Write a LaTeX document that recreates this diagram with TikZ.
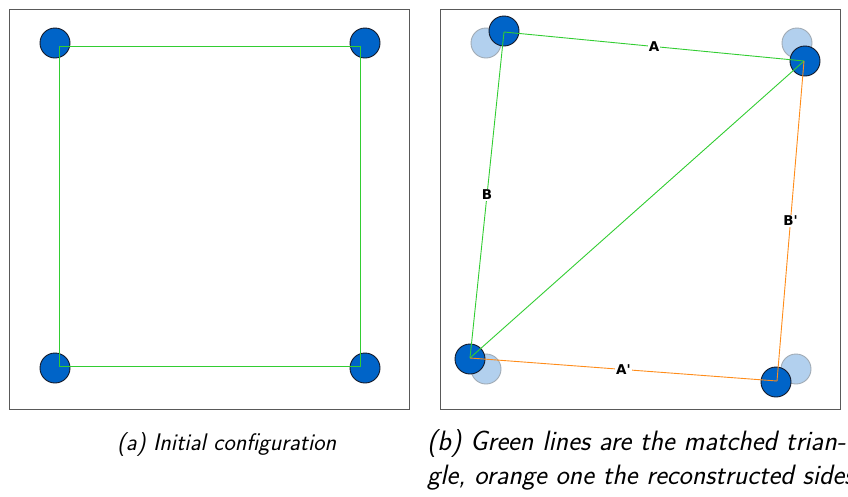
\documentclass[tikz,border=0pt]{standalone}
\usepackage{fontspec}
\newfontfamily\lblfont{DejaVu Sans}
\begin{document}
\begin{tikzpicture}[x=1pt,y=-1pt,
  frame/.style={draw=black!65, line width=1pt},
  dot/.style={circle, minimum size=30pt, inner sep=0pt, fill={rgb,255:red,0;green,100;blue,200}, draw={rgb,255:red,20;green,25;blue,40}, line width=0.9pt},
  ghost/.style={circle, minimum size=30pt, inner sep=0pt, fill={rgb,255:red,178;green,208;blue,238}, draw={rgb,255:red,160;green,170;blue,180}, line width=0.9pt},
  gline/.style={draw={rgb,255:red,50;green,205;blue,50}, line width=0.9pt},
  oline/.style={draw={rgb,255:red,255;green,140;blue,26}, line width=0.9pt},
  lbl/.style={fill=white, inner sep=1pt, font=\lblfont\bfseries\fontsize{13.5}{16}\selectfont},
  captext/.style={font=\sffamily\itshape\fontsize{24}{28}\selectfont, anchor=base west, inner sep=0pt},
  captextb/.style={font=\sffamily\itshape\fontsize{28}{33}\selectfont, anchor=base west, inner sep=0pt}
]
\useasboundingbox (0,0) rectangle (848,496);
% frames
\draw[frame] (9,9) rectangle (409.5,409);
\draw[frame] (440.5,9) rectangle (840.5,409);
% left panel
\node[dot] (l1) at (55,43) {};
\node[dot] (l2) at (365,43) {};
\node[dot] (l3) at (55,368) {};
\node[dot] (l4) at (365,368) {};
\coordinate (c1) at (59.5,46);
\coordinate (c2) at (360.5,46);
\coordinate (c3) at (59.5,366);
\coordinate (c4) at (360.5,366);
\draw[gline] (c1) -- (c2) -- (c4) -- (c3) -- cycle;
% right panel ghosts
\node[ghost] (g1) at (486,43) {};
\node[ghost] (g2) at (797,43) {};
\node[ghost] (g3) at (486,369) {};
\node[ghost] (g4) at (796,369) {};
% dots
\node[dot] (r1) at (504,31) {};
\node[dot] (r2) at (805,61) {};
\node[dot] (r3) at (470,359) {};
\node[dot] (r4) at (776,382) {};
\coordinate (p1) at (504,32);
\coordinate (p2) at (804,61);
\coordinate (p3) at (470,358);
\coordinate (p4) at (777,381);
\draw[gline] (p3) -- (p2);
\draw[gline] (p1) -- node[lbl] (la) {A} (p2);
\draw[gline] (p1) -- node[lbl] (lb) {B} (p3);
\draw[oline] (p2) -- node[lbl] (lbp) {B'} (p4);
\draw[oline] (p3) -- node[lbl] (lap) {A'} (p4);
% captions
\node[captext] (capa) at (117,450) {(a) Initial configuration};
\node[captextb] (capb1) at (427,450) {(b) Green lines are the matched trian-};
\node[captextb] (capb2) at (427,484) {gle, orange one the reconstructed sides.};
\end{tikzpicture}
\end{document}
